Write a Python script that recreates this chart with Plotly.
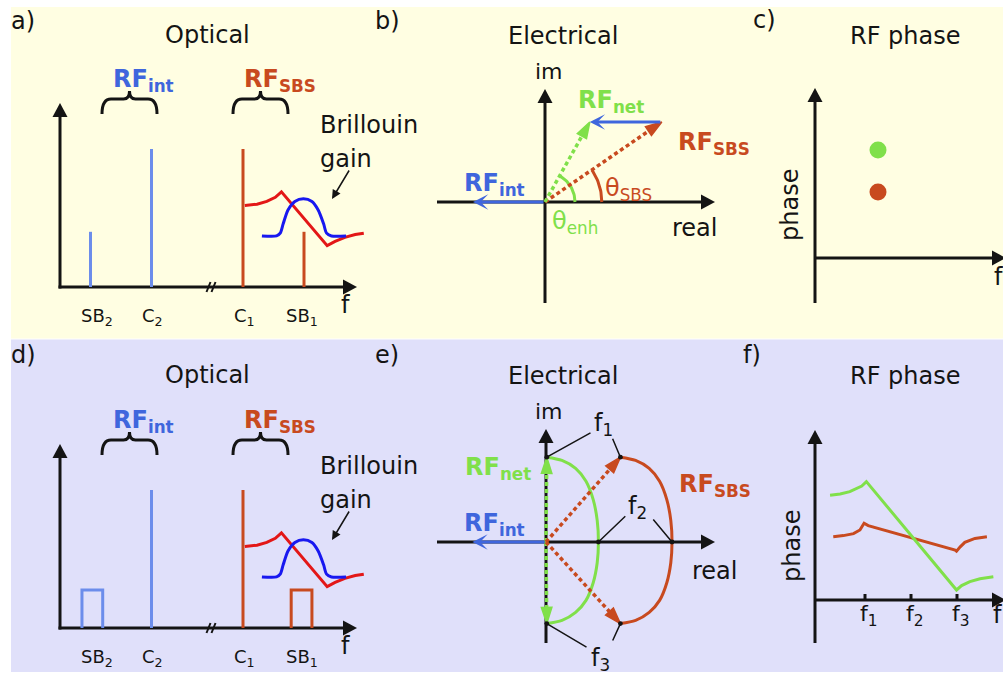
import math
import plotly.graph_objects as go

W, H = 1003, 675
FONT = "DejaVu Sans"
INK = "#141414"
BLUE_TXT = "#3F66DD"
BLUE_LINE = "#6C8DEB"
RUST = "#C84A1F"
GREEN = "#80E04A"
GAIN_BLUE = "#1818F0"
RESP_RED = "#E31717"
BG_TOP = "#FFFEE2"
BG_BOTTOM = "#E0E0FA"

# ---------------------------------------------------------------- data
# Optical spectra (a, d): frequency in units of the RF tone, amplitude relative to the carriers
opt_names = ["SB<sub>2</sub>", "C<sub>2</sub>", "C<sub>1</sub>", "SB<sub>1</sub>"]
opt_freq = [0.5, 1.5, 3.0, 4.0]
opt_amp = [0.4, 1.0, 1.0, 0.4]
opt_branch = ["int", "int", "sbs", "sbs"]

# swept sidebands drawn as pulses in (d)
pulse_freq = [0.53, 3.96]
pulse_width = [0.34, 0.34]
pulse_amp = [0.275, 0.275]
pulse_branch = ["int", "sbs"]

# Brillouin gain profile
gain_freq = [3.31, 3.55, 3.61, 3.66, 3.74, 3.85, 3.99, 4.13, 4.23, 4.32, 4.37, 4.45, 4.69]
gain_amp = [0.37, 0.37, 0.39, 0.46, 0.56, 0.62, 0.64, 0.62, 0.56, 0.46, 0.39, 0.37, 0.37]

# SBS phase response overlaid on the spectrum
resp_freq = [3.03, 3.23, 3.39, 3.53, 3.63, 4.38, 4.51, 4.67, 4.84, 4.98]
resp_amp = [0.59, 0.60, 0.62, 0.65, 0.69, 0.30, 0.33, 0.36, 0.38, 0.39]

# Phasors at a single RF tone (b)
rf_int_b = [-0.90, 0.0]
rf_sbs_b = [1.46, 1.00]

# RF phase at that tone (c)
tone_freq = 1.575
tone_phase_net = 2.70
tone_phase_sbs = 1.65

# Phasor loci across the band (e); entries 0, 6, 12 are f1, f2, f3
rf_int_e = [-0.92, 0.0]
sbs_re = [0.93, 1.12, 1.29, 1.42, 1.51, 1.56, 1.575, 1.56, 1.51, 1.42, 1.29, 1.12, 0.93]
sbs_im = [1.06, 1.02, 0.92, 0.76, 0.53, 0.27, 0.0, -0.26, -0.51, -0.73, -0.88, -0.98, -1.02]
locus_marks = [0, 6, 12]

# RF phase versus frequency (f)
f_ticks = [1, 2, 3]
f_tick_names = ["f<sub>1</sub>", "f<sub>2</sub>", "f<sub>3</sub>"]
net_f = [0.24, 0.46, 0.67, 0.82, 0.93, 1.03, 2.99, 3.10, 3.28, 3.50, 3.79]
net_phase = [2.62, 2.65, 2.71, 2.78, 2.85, 2.96, 0.25, 0.36, 0.46, 0.53, 0.58]
sbs_f = [0.31, 0.53, 0.75, 0.89, 0.98, 1.07, 2.96, 2.99, 3.07, 3.17, 3.39, 3.65]
sbs_phase = [1.58, 1.61, 1.66, 1.75, 1.92, 1.86, 1.25, 1.22, 1.33, 1.44, 1.54, 1.58]

# ---------------------------------------------------------------- frames
# origin (px), px per x unit, px per y unit for each panel's data axes
FRAMES = {"a": (60, 287, 61, 138), "b": (545, 202, 80, 80), "c": (815, 258, 40, 40),
          "d": (60, 628, 61, 138), "e": (546, 542, 80, 80), "f": (819, 600, 46, 40)}
AXIS_ID = {"a": 2, "b": 3, "c": 4, "d": 5, "e": 6, "f": 7}


def ax(key):
    n = AXIS_ID[key]
    return f"x{n}", f"y{n}"


layout = dict(
    width=W, height=H, margin=dict(l=0, r=0, t=0, b=0),
    paper_bgcolor="white", plot_bgcolor="rgba(0,0,0,0)", showlegend=False,
    xaxis=dict(domain=[0, 1], range=[0, W], visible=False, anchor="y", fixedrange=True),
    yaxis=dict(domain=[0, 1], range=[H, 0], visible=False, anchor="x", fixedrange=True),
)
for key, (ox, oy, sx, sy) in FRAMES.items():
    n = AXIS_ID[key]
    layout[f"xaxis{n}"] = dict(domain=[0, 1], range=[-ox / sx, (W - ox) / sx],
                               visible=False, anchor=f"y{n}", fixedrange=True)
    layout[f"yaxis{n}"] = dict(domain=[0, 1], range=[(oy - H) / sy, oy / sy],
                               visible=False, anchor=f"x{n}", fixedrange=True)

traces = [go.Scatter(x=[None], y=[None], xaxis="x", yaxis="y", hoverinfo="skip")]
shapes = []
annotations = []


def line_trace(key, xs, ys, color, width=3, shape="linear", dash=None):
    xa, ya = ax(key)
    return go.Scatter(x=xs, y=ys, xaxis=xa, yaxis=ya, mode="lines",
                      line=dict(color=color, width=width, shape=shape, dash=dash, smoothing=0.8),
                      hoverinfo="skip")


def dotted_vector(key, p0, p1, color, head=17):
    xa, ya = ax(key)
    return go.Scatter(x=[p0[0], p1[0]], y=[p0[1], p1[1]], xaxis=xa, yaxis=ya,
                      mode="lines+markers",
                      line=dict(color=color, width=3.5, dash="4px,3px"),
                      marker=dict(symbol="arrow", size=[0, head], angleref="previous",
                                  color=color, opacity=1, line=dict(width=1.5, color=color)),
                      hoverinfo="skip")


def solid_vector(key, p0, p1, color):
    xa, ya = ax(key)
    annotations.append(dict(x=p1[0], y=p1[1], ax=p0[0], ay=p0[1], xref=xa, yref=ya,
                            axref=xa, ayref=ya, text="", showarrow=True, arrowhead=3,
                            arrowsize=0.85, arrowwidth=3, arrowcolor=color))


# ---------------------------------------------------------------- canvas helpers (px)
def seg(x0, y0, x1, y1, color=INK, width=3, layer="below"):
    shapes.append(dict(type="line", xref="x", yref="y", x0=x0, y0=y0, x1=x1, y1=y1,
                       line=dict(color=color, width=width), layer=layer))


def axis_arrow(x0, y0, x1, y1, L=14, Wd=15):
    d = math.hypot(x1 - x0, y1 - y0)
    ux, uy = (x1 - x0) / d, (y1 - y0) / d
    bx, by = x1 - L * ux, y1 - L * uy
    seg(x0, y0, bx + ux, by + uy)
    nx, ny = -uy, ux
    path = (f"M{x1},{y1} L{bx + nx * Wd / 2},{by + ny * Wd / 2} "
            f"L{bx - nx * Wd / 2},{by - ny * Wd / 2} Z")
    shapes.append(dict(type="path", xref="x", yref="y", path=path, fillcolor=INK,
                       line=dict(width=0), layer="below"))


def brace(x0, x1, yend, ymid, ytip):
    xm = (x0 + x1) / 2
    path = (f"M{x0},{yend} Q{x0},{ymid} {x0 + 9},{ymid} L{xm - 6},{ymid} "
            f"Q{xm},{ymid} {xm},{ytip} Q{xm},{ymid} {xm + 6},{ymid} "
            f"L{x1 - 9},{ymid} Q{x1},{ymid} {x1},{yend}")
    shapes.append(dict(type="path", xref="x", yref="y", path=path,
                       line=dict(color=INK, width=3), layer="below"))


def label(text, x, y, size=24, color=INK, xanchor="center", yanchor="middle",
          angle=0, xref="x", yref="y", xshift=0):
    annotations.append(dict(text=text, x=x, y=y, xref=xref, yref=yref, showarrow=False,
                            xanchor=xanchor, yanchor=yanchor, textangle=angle, xshift=xshift,
                            font=dict(family=FONT, size=size, color=color)))


def pointer(x, y, tx, ty, xref="x", yref="y", head=2, size=1.2, width=1.5):
    annotations.append(dict(x=x, y=y, ax=tx, ay=ty, xref=xref, yref=yref, axref=xref,
                            ayref=yref, text="", showarrow=True, arrowhead=head,
                            arrowsize=size, arrowwidth=width, arrowcolor=INK))


# backgrounds
shapes.append(dict(type="rect", xref="x", yref="y", x0=11, x1=W, y0=7, y1=338.5,
                   fillcolor=BG_TOP, line=dict(width=0), layer="below"))
shapes.append(dict(type="rect", xref="x", yref="y", x0=11, x1=W, y0=339.5, y1=672,
                   fillcolor=BG_BOTTOM, line=dict(width=0), layer="below"))

BRANCH_COLOR = {"int": BLUE_LINE, "sbs": RUST}

# ---------------------------------------------------------------- optical panels a, d
for key, dy in (("a", 0), ("d", 341)):
    axis_arrow(60, 288.5 + dy, 60, 103 + dy)
    axis_arrow(58.5, 287 + dy, 357, 287 + dy)
    seg(206.5, 292 + dy, 210.5, 282 + dy, width=2)
    seg(211.5, 292 + dy, 215.5, 282 + dy, width=2)
    bdy = dy - 1
    brace(102, 157, 115 + bdy, 100 + bdy, 92 + bdy)
    brace(233, 288, 115 + bdy, 100 + bdy, 92 + bdy)

    for br in ("int", "sbs"):
        xs, ys = [], []
        for f, a, b in zip(opt_freq, opt_amp, opt_branch):
            if b != br or (key == "d" and a < 1.0):
                continue
            xs += [f, f, None]
            ys += [0, a, None]
        if key == "d":
            for c, w, h, b in zip(pulse_freq, pulse_width, pulse_amp, pulse_branch):
                if b == br:
                    xs += [c - w / 2, c - w / 2, c + w / 2, c + w / 2, None]
                    ys += [0, h, h, 0, None]
        traces.append(line_trace(key, xs, ys, BRANCH_COLOR[br]))
    traces.append(line_trace(key, resp_freq, resp_amp, RESP_RED))
    traces.append(line_trace(key, gain_freq, gain_amp, GAIN_BLUE, shape="spline"))

    xa, _ = ax(key)
    for name, f, sh in zip(opt_names, opt_freq, [6, 1, 1, -2]):
        label(name, f, 318 + dy - 1, size=18, xref=xa, yref="y", xshift=sh)
    label("f", 345, 306 + dy - 1)
    label("<b>RF<sub>int</sub></b>", 143, 81 + bdy, color=BLUE_TXT)
    label("<b>RF<sub>SBS</sub></b>", 280, 81 + bdy, color=RUST)
    gdy = dy + 2
    label("Brillouin", 318, 123 + gdy, xanchor="left")
    label("gain", 318, 157 + gdy, xanchor="left")
    pointer(332, 198 + dy + 1, 350, 168 + dy + 1)

label("a)", 23, 21)
label("d)", 23, 355)
label("Optical", 207, 35)
label("Optical", 207, 375)

# ---------------------------------------------------------------- electrical panel b
axis_arrow(545, 303, 545, 89)
axis_arrow(437, 202, 715, 202)
net_b = [rf_sbs_b[0] + rf_int_b[0], rf_sbs_b[1] + rf_int_b[1]]
th_sbs = math.atan2(rf_sbs_b[1], rf_sbs_b[0])
th_net = math.atan2(net_b[1], net_b[0])
for r, th, col in ((0.71, th_sbs, RUST), (0.375, th_net, GREEN)):
    ts = [th * i / 24 for i in range(25)]
    traces.append(line_trace("b", [r * math.cos(t) for t in ts],
                             [r * math.sin(t) for t in ts], col))
traces.append(dotted_vector("b", [0, 0], rf_sbs_b, RUST))
traces.append(dotted_vector("b", [0, 0], net_b, GREEN))
solid_vector("b", [0, 0], rf_int_b, BLUE_TXT)
solid_vector("b", rf_sbs_b, net_b, BLUE_TXT)

label("b)", 387, 21)
label("Electrical", 563, 36)
label("im", 549, 71, size=22)
label("real", 694, 228)
label("<b>RF<sub>net</sub></b>", 611, 101, color=GREEN)
label("<b>RF<sub>SBS</sub></b>", 714, 143, color=RUST)
label("<b>RF<sub>int</sub></b>", 494, 184, color=BLUE_TXT)
label("θ<sub>SBS</sub>", 628, 189, color=RUST)
label("θ<sub>enh</sub>", 575, 222, color=GREEN)

# ---------------------------------------------------------------- RF phase panel c
axis_arrow(815, 303, 815, 88)
axis_arrow(815, 258, 1006, 258)
xa, ya = ax("c")
traces.append(go.Scatter(x=[tone_freq, tone_freq], y=[tone_phase_net, tone_phase_sbs],
                         xaxis=xa, yaxis=ya, mode="markers", hoverinfo="skip",
                         marker=dict(size=17, color=[GREEN, RUST], line=dict(width=0))))
label("c)", 764, 20)
label("RF phase", 905, 36)
label("phase", 790, 205, angle=-90)
label("f", 998, 277)

# ---------------------------------------------------------------- electrical panel e
axis_arrow(546, 643, 546, 429)
axis_arrow(437, 542, 715, 542)
net_re = [v + rf_int_e[0] for v in sbs_re]
net_im = [v + rf_int_e[1] for v in sbs_im]
traces.append(line_trace("e", sbs_re, sbs_im, RUST, shape="spline"))
traces.append(line_trace("e", net_re, net_im, GREEN, shape="spline"))
i1, i2, i3 = locus_marks
traces.append(dotted_vector("e", [0, 0], [net_re[i1], net_im[i1]], GREEN))
traces.append(dotted_vector("e", [0, 0], [net_re[i3], net_im[i3]], GREEN))
traces.append(dotted_vector("e", [0, 0], [sbs_re[i1], sbs_im[i1]], RUST))
traces.append(dotted_vector("e", [0, 0], [sbs_re[i3], sbs_im[i3]], RUST))
solid_vector("e", [0, 0], rf_int_e, BLUE_TXT)

xa, ya = ax("e")
leader_starts = {i1: [(0.575, 1.375), (0.825, 1.31)],
                 i2: [(1.01, 0.34), (1.325, 0.30)],
                 i3: [(0.525, -1.325), (0.825, -1.25)]}
for i, (s_net, s_sbs) in leader_starts.items():
    pointer(net_re[i], net_im[i], s_net[0], s_net[1], xref=xa, yref=ya, head=6, size=0.8)
    pointer(sbs_re[i], sbs_im[i], s_sbs[0], s_sbs[1], xref=xa, yref=ya, head=6, size=0.8)

label("e)", 387, 355)
label("Electrical", 563, 376)
label("im", 549, 411, size=22)
label("real", 714, 571)
label("<b>RF<sub>net</sub></b>", 498, 468, color=GREEN)
label("<b>RF<sub>int</sub></b>", 494, 524, color=BLUE_TXT)
label("<b>RF<sub>SBS</sub></b>", 715, 485, color=RUST)
label("f<sub>1</sub>", 603, 424)
label("f<sub>2</sub>", 637, 507)
label("f<sub>3</sub>", 600, 659)

# ---------------------------------------------------------------- RF phase panel f
axis_arrow(815, 643, 815, 430)
axis_arrow(815, 600, 1006, 600)
xa, ya = ax("f")
for t in f_ticks:
    shapes.append(dict(type="line", xref=xa, yref=ya, x0=t, x1=t, y0=0, y1=0.15,
                       line=dict(color=INK, width=3), layer="below"))
traces.append(line_trace("f", sbs_f, sbs_phase, RUST))
traces.append(line_trace("f", net_f, net_phase, GREEN))
for name, t in zip(f_tick_names, f_ticks):
    label(name, t, 615, size=22, xref=xa, yref="y", xshift=4)
label("f)", 752, 355)
label("RF phase", 905, 376)
label("phase", 792, 546, angle=-90)
label("f", 997, 615)

for tr in traces:
    tr.update(showlegend=False)
fig = go.Figure(data=traces)
fig.update_layout(**layout, shapes=shapes, annotations=annotations)
fig.write_html("out.html")
